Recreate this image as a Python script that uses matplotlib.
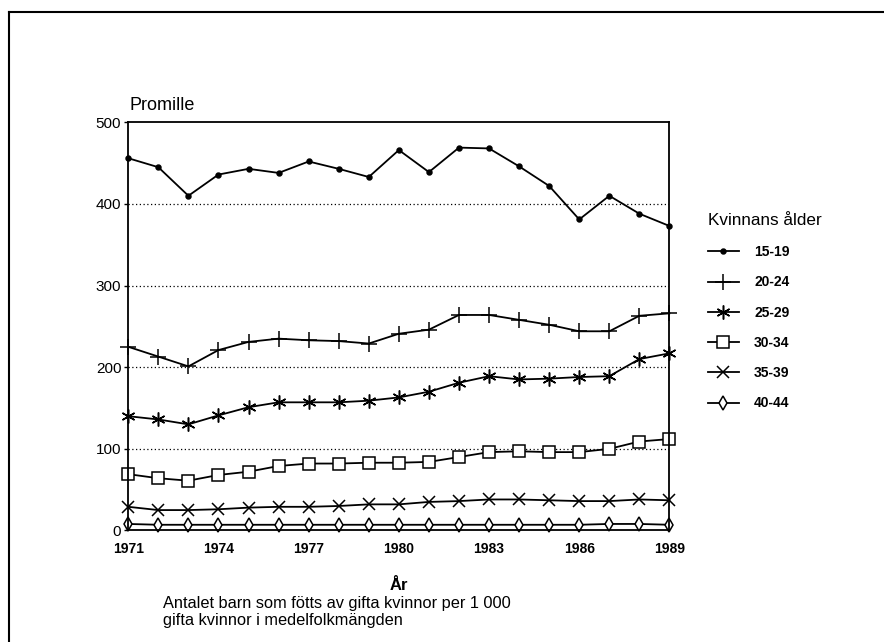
import matplotlib
matplotlib.use("Agg")
import matplotlib.pyplot as plt
from matplotlib.lines import Line2D

plt.rcParams['font.family'] = ['Liberation Sans', 'DejaVu Sans']

# Födda per 1 000 gifta kvinnor, efter kvinnans ålder
years = list(range(1971, 1990))
age_groups = ['15-19', '20-24', '25-29', '30-34', '35-39', '40-44']
v15_19 = [456, 445, 410, 436, 443, 438, 452, 443, 433, 466, 439, 469, 468, 446, 422, 381, 410, 388, 373]
v20_24 = [225, 213, 201, 221, 231, 235, 233, 232, 229, 241, 246, 264, 264, 258, 252, 244, 244, 263, 266]
v25_29 = [140, 136, 130, 141, 151, 157, 157, 157, 159, 163, 170, 181, 189, 185, 186, 188, 189, 210, 217]
v30_34 = [69, 64, 61, 68, 72, 79, 82, 82, 83, 83, 84, 90, 96, 97, 96, 96, 100, 109, 112]
v35_39 = [29, 25, 25, 26, 28, 29, 29, 30, 32, 32, 35, 36, 38, 38, 37, 36, 36, 38, 37]
v40_44 = [8, 7, 7, 7, 7, 7, 7, 7, 7, 7, 7, 7, 7, 7, 7, 7, 8, 8, 7]
xticks = [1971, 1974, 1977, 1980, 1983, 1986, 1989]
yticks = [0, 100, 200, 300, 400, 500]

fig = plt.figure(figsize=(8.84, 6.42), dpi=100)
ax = fig.add_axes([0.1451, 0.1737, 0.6122, 0.6358])

series = [v15_19, v20_24, v25_29, v30_34, v35_39, v40_44]
markers = ['o', '+', (6, 2, 0), 's', 'x', 'd']
msizes = [3.5, 11, 10, 8, 9, 7.5]
for vals, lab, m, ms in zip(series, age_groups, markers, msizes):
    ax.plot(years, vals, color='black', lw=1.3, marker=m, markersize=ms,
            markerfacecolor='white' if m in ('s', 'd') else 'black',
            markeredgecolor='black', markeredgewidth=1.1, label=lab, clip_on=False)

ax.set_xlim(1971, 1989)
ax.set_ylim(0, 500)
ax.set_xticks(xticks)
ax.set_yticks(yticks)
ax.set_xticklabels([str(x) for x in xticks], fontsize=10, fontweight='bold')
ax.set_yticklabels([str(y) for y in yticks], fontsize=11)
ax.tick_params(axis='x', length=0, pad=8)
ax.tick_params(axis='y', length=3, width=1, direction='out', pad=2)
for y in yticks[1:-1]:
    ax.axhline(y, color='black', lw=0.9, ls=(0, (1, 2)), zorder=0)
for s in ax.spines.values():
    s.set_linewidth(1.3)

ax.text(0.002, 1.02, 'Promille', transform=ax.transAxes, fontsize=13,
        ha='left', va='bottom')
ax.set_xlabel('År', fontsize=12, fontweight='bold', labelpad=16)

leg = ax.legend(loc='upper left', bbox_to_anchor=(0.787, 0.687),
                bbox_transform=fig.transFigure, frameon=False,
                title='Kvinnans ålder', title_fontsize=12.3,
                prop={'size': 10, 'weight': 'bold'}, handlelength=2.2,
                labelspacing=1.17, alignment='left', handletextpad=1.1)
leg._legend_box.sep = 12

fig.text(0.1845, 0.072, 'Antalet barn som fötts av gifta kvinnor per 1 000\n'
         'gifta kvinnor i medelfolkmängden', fontsize=11.8, ha='left',
         va='top', linespacing=1.2)

# ram runt figuren
fig.add_artist(Line2D([0.0102, 0.0102], [0.0, 0.981], color='black', lw=1.5,
                      transform=fig.transFigure))
fig.add_artist(Line2D([0.0102, 1.0], [0.981, 0.981], color='black', lw=1.5,
                      transform=fig.transFigure))

fig.savefig('out.png', dpi=100)
